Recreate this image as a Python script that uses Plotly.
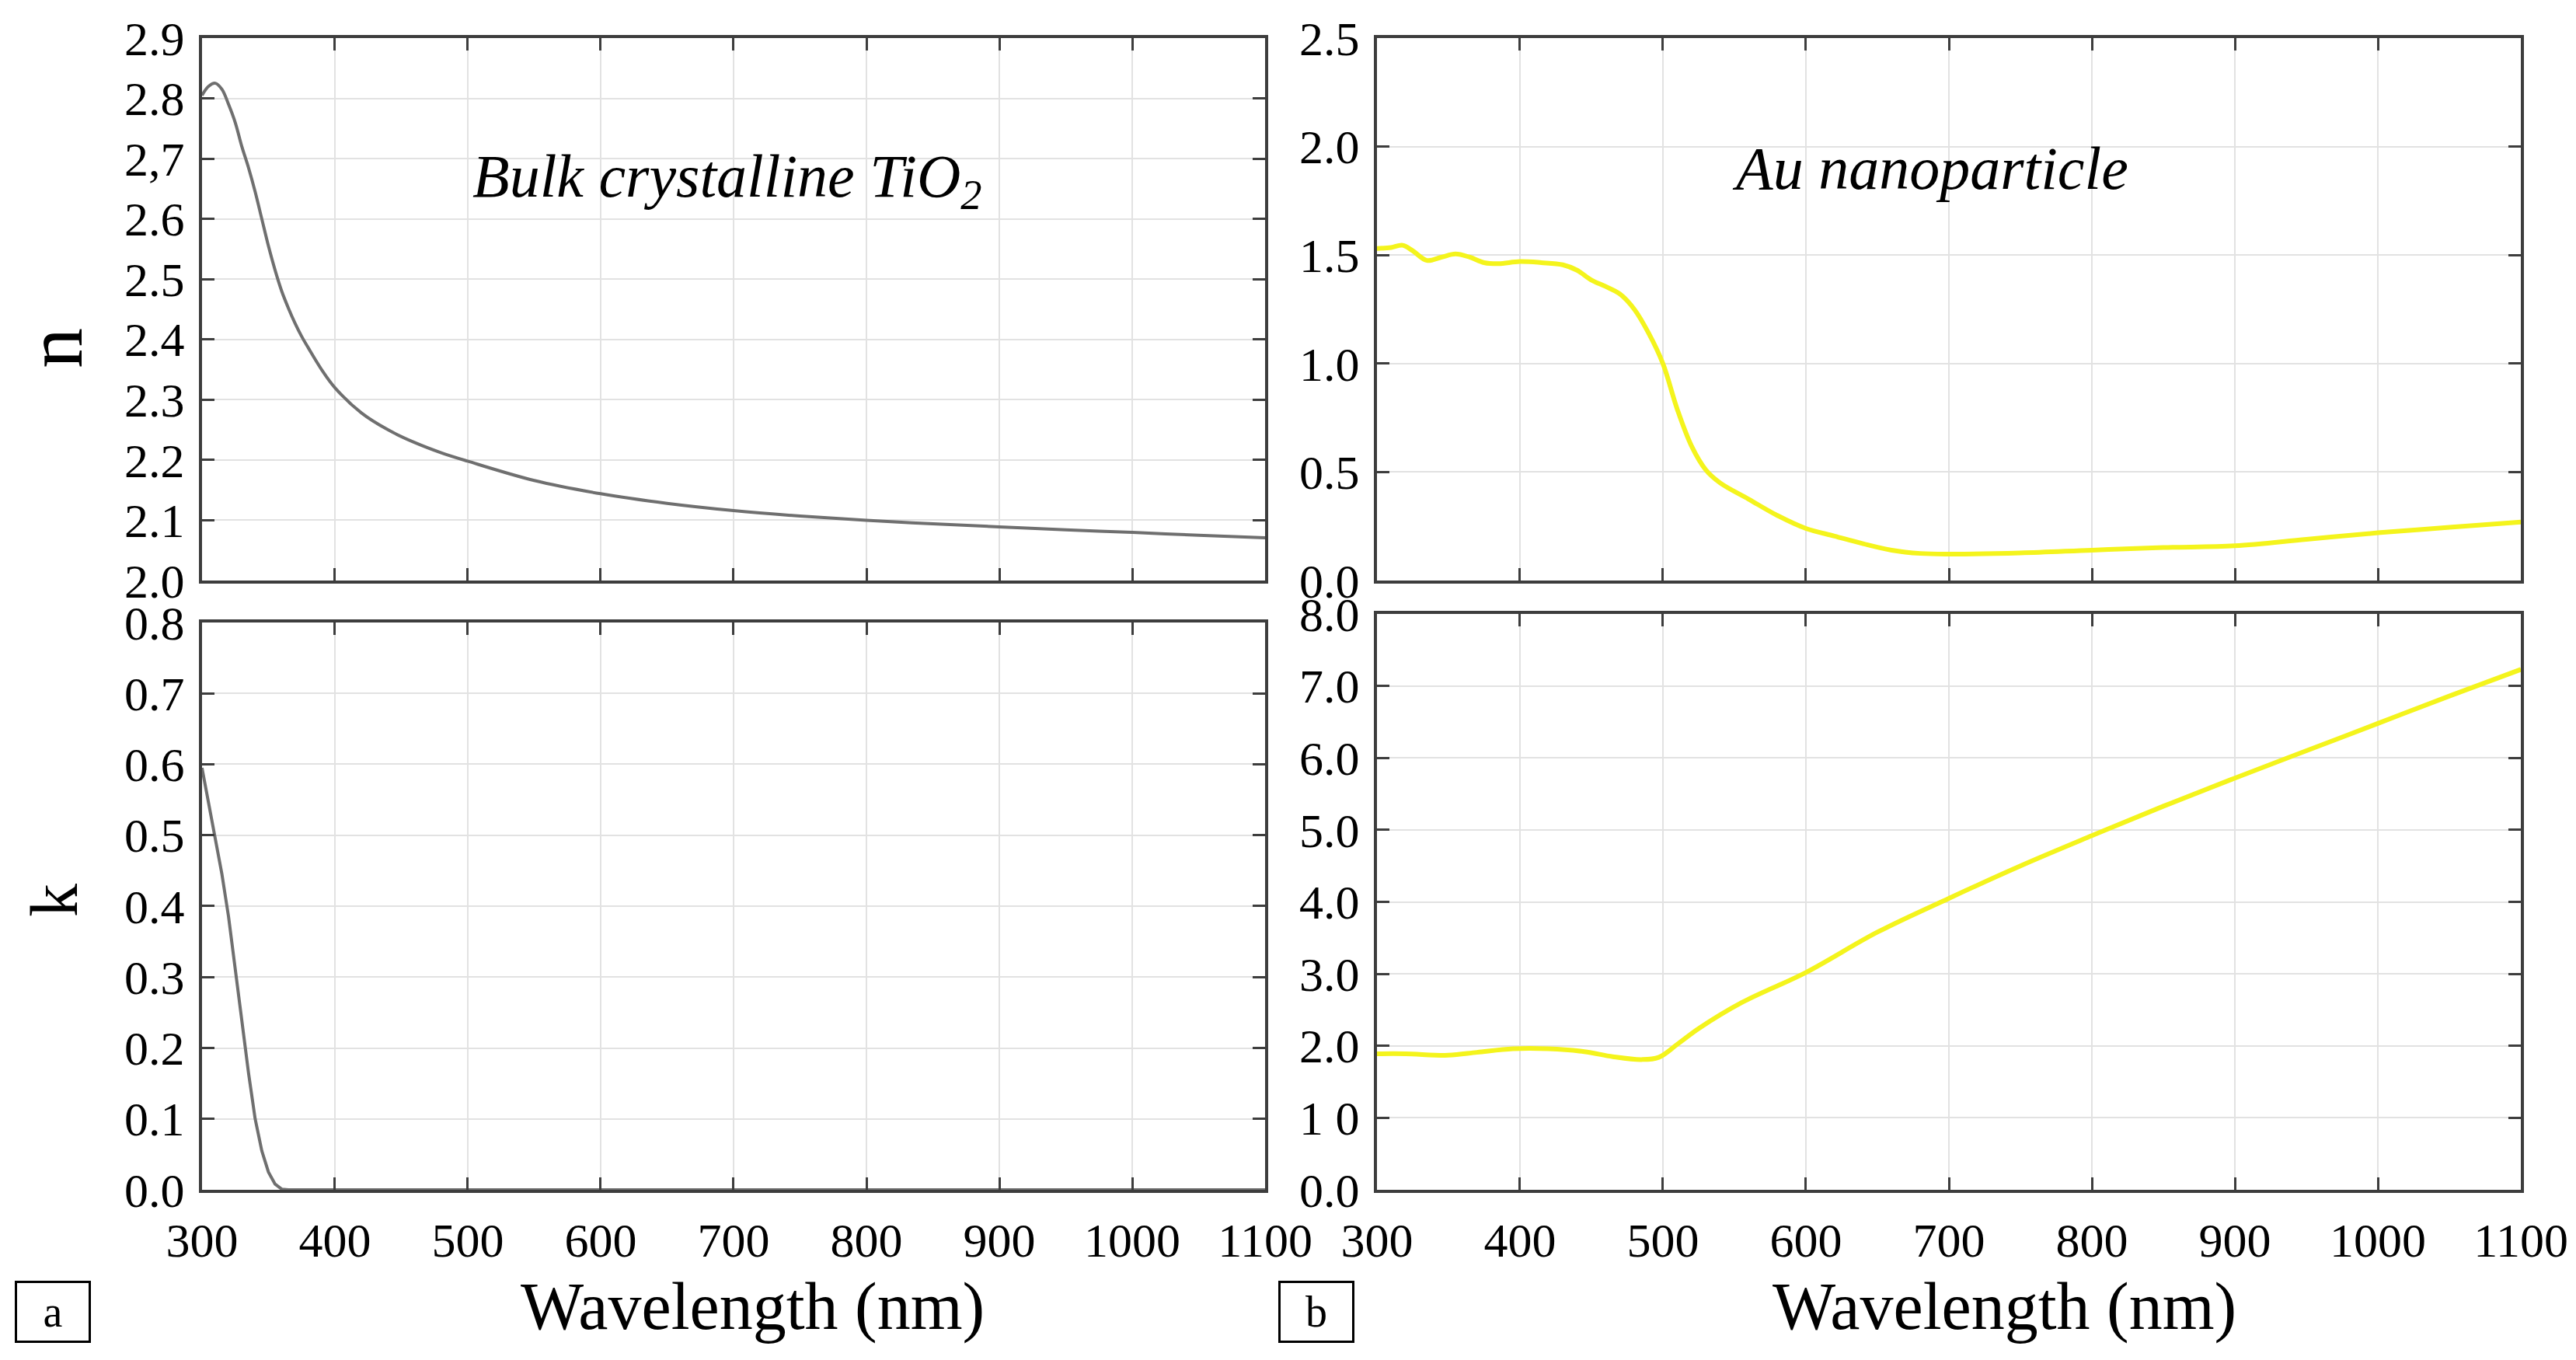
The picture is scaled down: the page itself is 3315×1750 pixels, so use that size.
import plotly.graph_objects as go

# TiO2 (panel a)
wl_ti_n = [300, 305, 310, 315, 320, 325, 330, 335, 340, 345, 350, 355, 360, 365, 370, 375, 380,
           390, 400, 420, 440, 460, 480, 500, 550, 600, 650, 700, 750, 800, 850, 900, 950, 1000, 1050, 1100]
n_ti = [2.805, 2.820, 2.825, 2.815, 2.790, 2.760, 2.720, 2.685, 2.645, 2.600, 2.555, 2.515, 2.480,
        2.452, 2.427, 2.405, 2.386, 2.350, 2.320, 2.278, 2.250, 2.229, 2.212, 2.198, 2.166, 2.144,
        2.128, 2.116, 2.107, 2.100, 2.094, 2.089, 2.084, 2.080, 2.075, 2.071]

wl_ti_k = [300, 305, 310, 315, 320, 325, 330, 335, 340, 345, 350, 355, 360, 365, 400, 500, 600,
           700, 800, 900, 1000, 1100]
k_ti = [0.595, 0.545, 0.495, 0.445, 0.385, 0.310, 0.235, 0.165, 0.100, 0.055, 0.025, 0.008, 0.001,
        0.0, 0.0, 0.0, 0.0, 0.0, 0.0, 0.0, 0.0, 0.0]

# Au nanoparticle (panel b)
wl_au_n = [300, 310, 318, 325, 335, 345, 355, 365, 375, 385, 400, 415, 430, 440, 450, 460, 470, 480,
           490, 500, 510, 520, 530, 540, 560, 580, 600, 620, 640, 660, 680, 700, 750, 800, 850, 900,
           950, 1000, 1050, 1100]
n_au = [1.53, 1.535, 1.545, 1.52, 1.475, 1.49, 1.505, 1.49, 1.465, 1.46, 1.47, 1.465, 1.455, 1.43,
        1.385, 1.355, 1.32, 1.25, 1.14, 1.0, 0.79, 0.62, 0.51, 0.45, 0.375, 0.30, 0.24, 0.205, 0.17,
        0.14, 0.125, 0.122, 0.127, 0.14, 0.152, 0.16, 0.19, 0.22, 0.245, 0.27]

wl_au_k = [300, 320, 350, 370, 395, 420, 445, 465, 485, 497, 510, 525, 555, 600, 650, 700, 750, 800,
           850, 900, 950, 1000, 1050, 1100]
k_au = [1.89, 1.89, 1.87, 1.91, 1.96, 1.96, 1.92, 1.85, 1.81, 1.84, 2.02, 2.24, 2.60, 3.02, 3.58,
        4.05, 4.50, 4.92, 5.33, 5.72, 6.10, 6.48, 6.86, 7.23]

x_ticks = [300, 400, 500, 600, 700, 800, 900, 1000, 1100]
n_ti_ticks = [2.0, 2.1, 2.2, 2.3, 2.4, 2.5, 2.6, 2.7, 2.8, 2.9]
n_ti_labels = ["2.0", "2.1", "2.2", "2.3", "2.4", "2.5", "2.6", "2,7", "2.8", "2.9"]
k_ti_ticks = [0.0, 0.1, 0.2, 0.3, 0.4, 0.5, 0.6, 0.7, 0.8]
k_ti_labels = ["0.0", "0.1", "0.2", "0.3", "0.4", "0.5", "0.6", "0.7", "0.8"]
n_au_ticks = [0.0, 0.5, 1.0, 1.5, 2.0, 2.5]
n_au_labels = ["0.0", "0.5", "1.0", "1.5", "2.0", "2.5"]
k_au_ticks = [0, 1, 2, 3, 4, 5, 6, 7, 8]
k_au_labels = ["0.0", "1 0", "2.0", "3.0", "4.0", "5.0", "6.0", "7.0", "8.0"]

GRAY = "#6f6f6f"
YELLOW = "#f4f41c"
AXC = "#3d3d3d"
FONT = "Liberation Serif"

fig = go.Figure()
fig.add_trace(go.Scatter(x=wl_ti_n, y=n_ti, mode="lines", line=dict(color=GRAY, width=4, shape="spline"),
                         xaxis="x", yaxis="y", showlegend=False))
fig.add_trace(go.Scatter(x=wl_ti_k, y=k_ti, mode="lines", line=dict(color=GRAY, width=4),
                         xaxis="x3", yaxis="y3", showlegend=False))
fig.add_trace(go.Scatter(x=wl_au_n, y=n_au, mode="lines", line=dict(color=YELLOW, width=6, shape="spline"),
                         xaxis="x2", yaxis="y2", showlegend=False))
fig.add_trace(go.Scatter(x=wl_au_k, y=k_au, mode="lines", line=dict(color=YELLOW, width=6, shape="spline"),
                         xaxis="x4", yaxis="y4", showlegend=False))


def xax(domain, anchor, labels):
    return dict(domain=domain, anchor=anchor, range=[300, 1100], tickvals=x_ticks,
                showticklabels=labels, ticks="inside", ticklen=16, tickwidth=3, tickcolor=AXC,
                showline=True, linecolor=AXC, linewidth=4, mirror="ticks",
                showgrid=True, gridcolor="#e2e2e2", gridwidth=2, zeroline=False,
                ticklabelstandoff=8,
                tickfont=dict(family=FONT, size=62, color="black"))


def yax(domain, anchor, rng, vals, text):
    return dict(domain=domain, anchor=anchor, range=rng, tickvals=vals, ticktext=text,
                ticks="inside", ticklen=16, tickwidth=3, tickcolor=AXC,
                showline=True, linecolor=AXC, linewidth=4, mirror="ticks",
                showgrid=True, gridcolor="#e2e2e2", gridwidth=2, zeroline=False,
                ticklabelstandoff=6,
                tickfont=dict(family=FONT, size=62, color="black"))


left = [0.0760, 0.4887]
right = [0.5321, 0.9762]
top = [0.5777, 0.9766]
bot_l = [0.1297, 0.5469]
bot_r = [0.1297, 0.5531]

fig.update_layout(
    width=3315, height=1750,
    margin=dict(l=0, r=0, t=0, b=0, autoexpand=False),
    paper_bgcolor="white", plot_bgcolor="white",
    xaxis=xax(left, "y", False),
    yaxis=yax(top, "x", [2.0, 2.9], n_ti_ticks, n_ti_labels),
    xaxis2=xax(right, "y2", False),
    yaxis2=yax(top, "x2", [0, 2.5], n_au_ticks, n_au_labels),
    xaxis3=xax(left, "y3", True),
    yaxis3=yax(bot_l, "x3", [0, 0.8], k_ti_ticks, k_ti_labels),
    xaxis4=xax(right, "y4", True),
    yaxis4=yax(bot_r, "x4", [0, 8], k_au_ticks, k_au_labels),
)

ann = [
    dict(text="<i>Bulk crystalline TiO<sub>2</sub></i>", x=0.2799, y=0.872, size=78),
    dict(text="<i>Au nanoparticle</i>", x=0.7469, y=0.881, size=78),
    dict(text="Wavelength (nm)", x=0.2896, y=0.044, size=86),
    dict(text="Wavelength (nm)", x=0.7756, y=0.044, size=86),
]
for a in ann:
    fig.add_annotation(text=a["text"], x=a["x"], y=a["y"], xref="paper", yref="paper",
                       xanchor="center", yanchor="middle", showarrow=False,
                       font=dict(family=FONT, size=a["size"], color="black"))

fig.add_annotation(text="n", x=0.0187, y=0.7486, xref="paper", yref="paper", showarrow=False,
                   xanchor="center", yanchor="middle", textangle=-90,
                   font=dict(family=FONT, size=104, color="black"))
fig.add_annotation(text="k", x=0.0187, y=0.3429, xref="paper", yref="paper", showarrow=False,
                   xanchor="center", yanchor="middle", textangle=-90,
                   font=dict(family=FONT, size=86, color="black"))

for lbl, xp in [("a", 0.0181), ("b", 0.5086)]:
    fig.add_annotation(text=lbl, x=xp, y=0.040, xref="paper", yref="paper", showarrow=False,
                       xanchor="center", yanchor="middle",
                       bordercolor="black", borderwidth=3, borderpad=8, width=76, height=58,
                       font=dict(family=FONT, size=56, color="black"))

fig.write_html("out.html")
